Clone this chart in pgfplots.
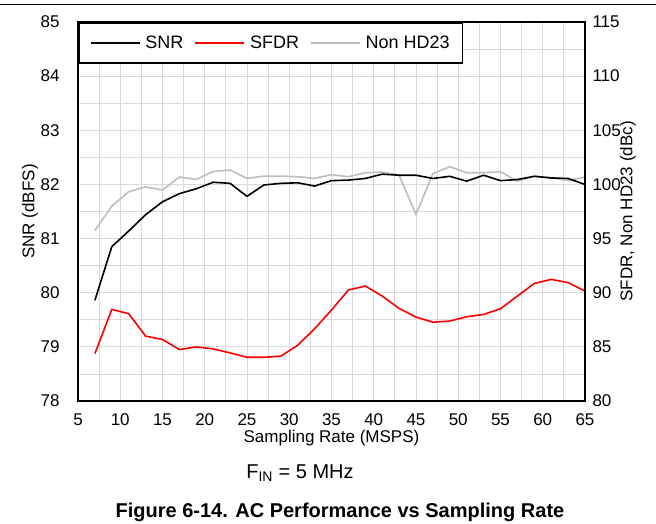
\documentclass[border=0pt]{standalone}
\usepackage{pgfplots}
\usepackage{pgfplotstable}
\pgfplotsset{compat=1.18}
\usepackage{fontspec}
\setmainfont{Liberation Sans}
\definecolor{sfdrc}{RGB}{255,0,0}
\definecolor{hdc}{RGB}{190,190,190}
\definecolor{gridc}{RGB}{218,218,218}

\pgfplotstableread{
x snr sfdr hd
7 79.86 84.38 95.74
9 80.85 88.46 98.00
11 81.14 88.06 99.32
13 81.44 85.99 99.78
15 81.68 85.68 99.48
17 81.83 84.75 100.68
19 81.92 85.00 100.46
21 82.04 84.81 101.20
23 82.02 84.44 101.33
25 81.78 84.04 100.56
27 81.99 84.04 100.77
29 82.02 84.14 100.77
31 82.03 85.15 100.71
33 81.97 86.67 100.56
35 82.07 88.40 100.90
37 82.08 90.25 100.71
39 82.11 90.62 101.08
41 82.19 89.69 101.14
43 82.17 88.55 100.86
45 82.17 87.75 97.22
47 82.11 87.28 101.00
49 82.15 87.38 101.64
51 82.06 87.78 101.08
53 82.17 87.99 101.08
55 82.07 88.52 101.17
57 82.09 89.69 100.30
59 82.15 90.86 100.77
61 82.12 91.23 100.60
63 82.11 90.93 100.37
65 82.00 90.15 100.68
}\datatable

\begin{document}
\begin{tikzpicture}
\useasboundingbox (-78pt,-122pt) rectangle (578pt,401pt);
\fill[white] (-78pt,-122pt) rectangle (578pt,401pt);
\draw[line width=0.8pt] (-78pt,397pt) -- (578pt,397pt);
\pgfplotsset{base/.style={scale only axis, width=507pt, height=379pt, xmin=5, xmax=65,
  tick style={draw=none}, /pgf/number format/assume math mode=true,
  tick label style={font=\fontsize{17}{20}\selectfont},
  label style={font=\fontsize{17}{20}\selectfont}}}
% grid + left ticks + x ticks
\begin{axis}[base, ymin=78, ymax=85,
  xtick={5,10,...,65}, minor xtick={7.5,12.5,...,62.5},
  ytick={78,...,85}, minor ytick={78.5,79.5,...,84.5},
  grid=both, grid style={gridc, line width=0.8pt}, minor grid style={gridc, line width=0.8pt},
  axis line style={draw=none},
  xticklabel style={yshift=-9pt},
  yticklabel style={xshift=-15pt},
  xlabel={Sampling Rate (MSPS)}, ylabel={SNR (dBFS)},
  xlabel style={at={(axis description cs:0.5,0)}, anchor=center, yshift=-37pt},
  ylabel style={at={(axis description cs:-0.0947,0.5)}, anchor=center}]
\end{axis}
% right axis: SFDR and Non HD23
\begin{axis}[base, ymin=80, ymax=115, axis y line*=right, axis x line=none,
  ytick={80,85,...,115}, axis line style={draw=none},
  yticklabel style={xshift=4pt},
  ylabel={SFDR, Non HD23 (dBc)},
  ylabel style={at={(axis description cs:1.085,0.5)}, anchor=center}]
\addplot[hdc, line width=1.6pt] table[x=x, y=hd] {\datatable};
\addplot[sfdrc, line width=1.6pt] table[x=x, y=sfdr] {\datatable};
\end{axis}
% SNR, frame, legend
\begin{axis}[base, ymin=78, ymax=85, xtick=\empty, ytick=\empty,
  axis line style={line width=1.6pt},
  legend image code/.code={\draw[#1, line width=1.6pt] (0pt,0pt) -- (49pt,0pt);},
  legend style={at={(0,1)}, anchor=north west, draw=black, line width=1.6pt, fill=white,
    font=\fontsize{18}{21}\selectfont, legend columns=3, inner xsep=11pt, inner ysep=11pt,
    /tikz/every even column/.append style={column sep=9pt},
    /tikz/every odd column/.append style={column sep=3pt}},
  legend cell align=left]
\addplot[black, line width=1.6pt] table[x=x, y=snr] {\datatable};
\addlegendentry{SNR}
\addlegendimage{color=sfdrc, line width=1.6pt}
\addlegendentry{SFDR}
\addlegendimage{color=hdc, line width=1.6pt}
\addlegendentry{Non HD23}
\end{axis}
\node[font=\fontsize{20}{24}\selectfont] at (222pt,-72pt) {F\textsubscript{IN} = 5 MHz};
\node[font=\bfseries\fontsize{20}{24}\selectfont] at (262pt,-111pt) {Figure 6-14. AC Performance vs Sampling Rate};
\end{tikzpicture}
\end{document}
